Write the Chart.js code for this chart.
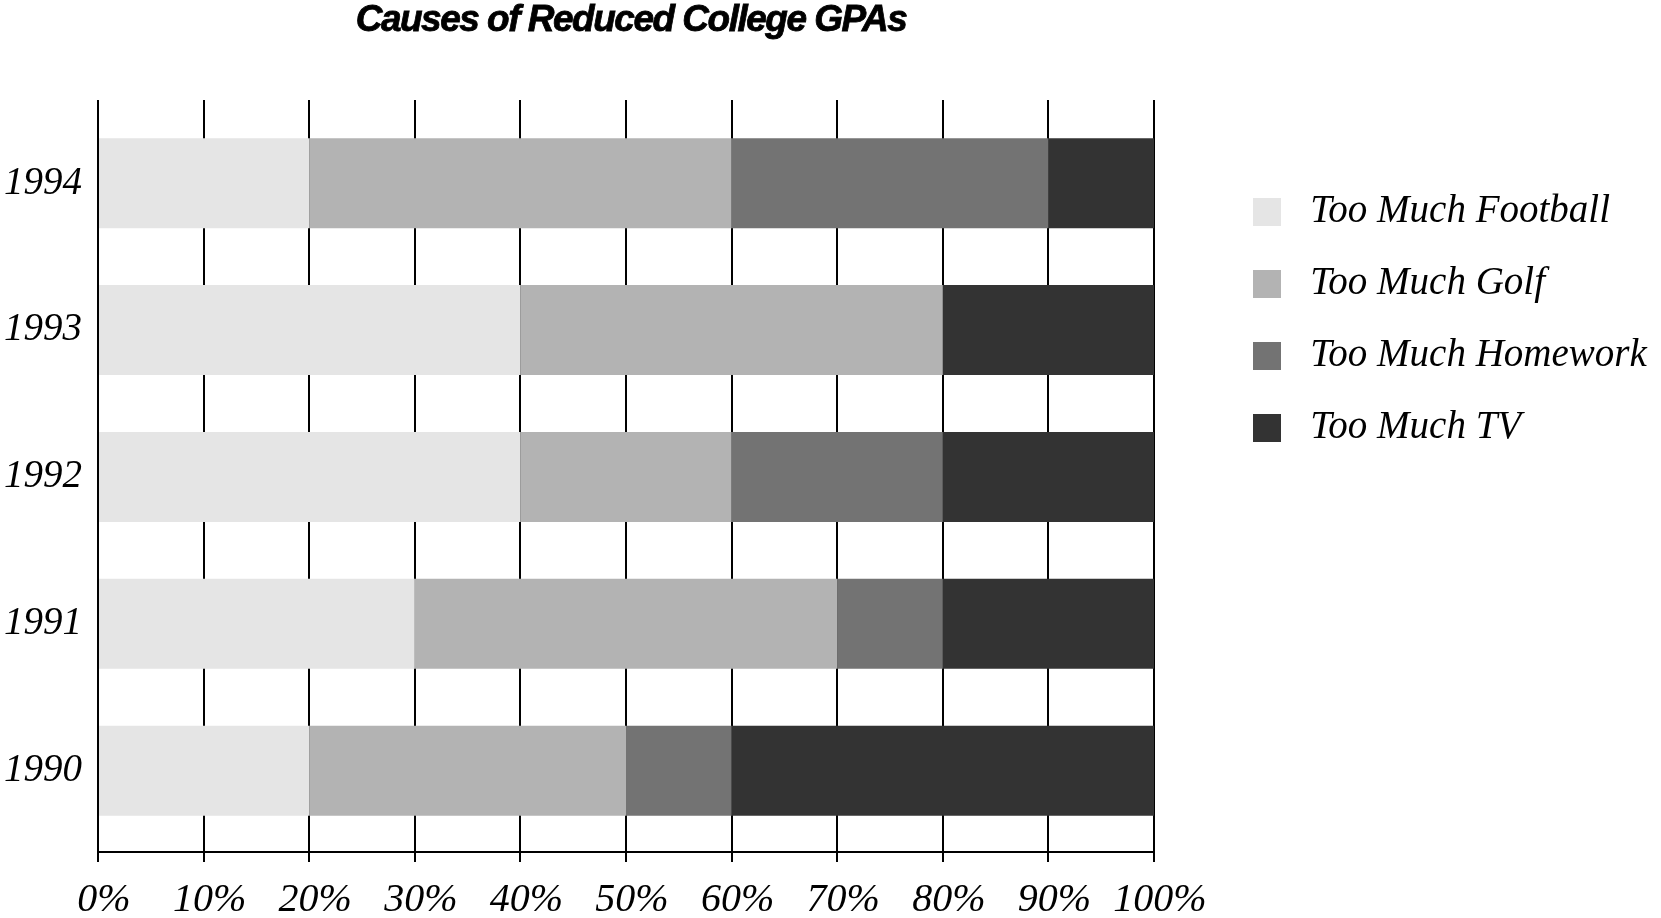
<!DOCTYPE html>
<html><head><meta charset="utf-8">
<script src="https://cdn.jsdelivr.net/npm/chart.js@4/dist/chart.umd.min.js"></script>
<style>html,body{margin:0;padding:0;background:#fff;overflow:hidden}canvas{display:block}</style>
</head><body>
<canvas id="c" width="1661" height="918"></canvas>
<script>
const chartTitle = 'Causes of Reduced College GPAs';
const years = [1990, 1991, 1992, 1993, 1994];
const seriesNames = ['Too Much Football', 'Too Much Golf', 'Too Much Homework', 'Too Much TV'];
const football = [20, 30, 40, 40, 20];
const golf = [30, 40, 20, 40, 40];
const homework = [10, 10, 20, 0, 30];
const tv = [40, 20, 20, 20, 10];
const percentTicks = [0, 10, 20, 30, 40, 50, 60, 70, 80, 90, 100];
const colors = ['#e5e5e5', '#b3b3b3', '#737373', '#333333'];

const serifItalic = (size) => ({family: '"Liberation Serif", "Times New Roman", serif', style: 'italic', size: size});

const titlePlugin = {
  id: 'customTitle',
  afterDraw(chart) {
    const ctx = chart.ctx;
    ctx.save();
    ctx.font = 'italic bold 37px "Liberation Sans", Arial, sans-serif';
    if ('letterSpacing' in ctx) ctx.letterSpacing = '-1.5px';
    ctx.fillStyle = '#000';
    ctx.strokeStyle = '#000';
    ctx.lineWidth = 0.8;
    ctx.textAlign = 'center';
    ctx.textBaseline = 'alphabetic';
    ctx.fillText(chartTitle, 631, 31);
    ctx.strokeText(chartTitle, 631, 31);
    ctx.restore();
  }
};

const seriesData = [football, golf, homework, tv];

new Chart(document.getElementById('c'), {
  type: 'bar',
  data: {
    labels: years,
    datasets: seriesNames.map((name, i) => ({
      label: name,
      data: seriesData[i],
      backgroundColor: colors[i],
      borderWidth: 0,
      categoryPercentage: 1,
      barPercentage: 0.613
    }))
  },
  options: {
    indexAxis: 'y',
    responsive: false,
    animation: false,
    events: [],
    layout: {padding: {top: 100, right: 0, bottom: 0, left: 0}},
    scales: {
      x: {
        type: 'linear',
        stacked: true,
        bounds: 'data',
        offset: false,
        min: 0,
        max: 100,
        afterBuildTicks(s) { s.ticks = percentTicks.map(v => ({value: v})); },
        ticks: {
          callback: (v) => v + '%',
          font: serifItalic(40),
          color: '#000',
          padding: 14,
          labelOffset: 6,
          maxRotation: 0,
          autoSkip: false
        },
        grid: {color: '#000', lineWidth: 2, tickLength: 10, drawTicks: true, offset: false},
        border: {display: true, color: '#000', width: 2},
        afterFit(s) { s.height = 66; }
      },
      y: {
        type: 'linear',
        stacked: true,
        bounds: 'data',
        offset: false,
        min: 1989.446,
        max: 1994.567,
        afterBuildTicks(s) { s.ticks = years.map(v => ({value: v})); },
        ticks: {
          callback: (v) => String(v),
          font: serifItalic(39),
          color: '#000',
          padding: 16
        },
        grid: {display: false, drawTicks: false, offset: false},
        border: {display: false},
        afterFit(s) { s.width = 98; }
      },
      yPad: {
        type: 'linear',
        position: 'right',
        display: true,
        offset: false,
        grid: {display: false, drawTicks: false},
        border: {display: false},
        ticks: {display: false},
        afterFit(s) { s.width = 66; }
      }
    },
    plugins: {
      title: {display: false},
      tooltip: {enabled: false},
      legend: {
        display: true,
        position: 'right',
        align: 'start',
        maxWidth: 441,
        title: {display: true, text: ' ', padding: {top: 47.5, bottom: 0}, font: {size: 10}},
        labels: {
          boxWidth: 28,
          boxHeight: 28,
          padding: 33,
          color: '#000',
          font: serifItalic(39),
          generateLabels(chart) {
            const items = Chart.defaults.plugins.legend.labels.generateLabels(chart);
            items.forEach(it => { it.text = ' ' + it.text + '        '; it.lineWidth = 0; });
            return items;
          }
        }
      }
    }
  },
  plugins: [titlePlugin]
});
</script>
</body></html>
